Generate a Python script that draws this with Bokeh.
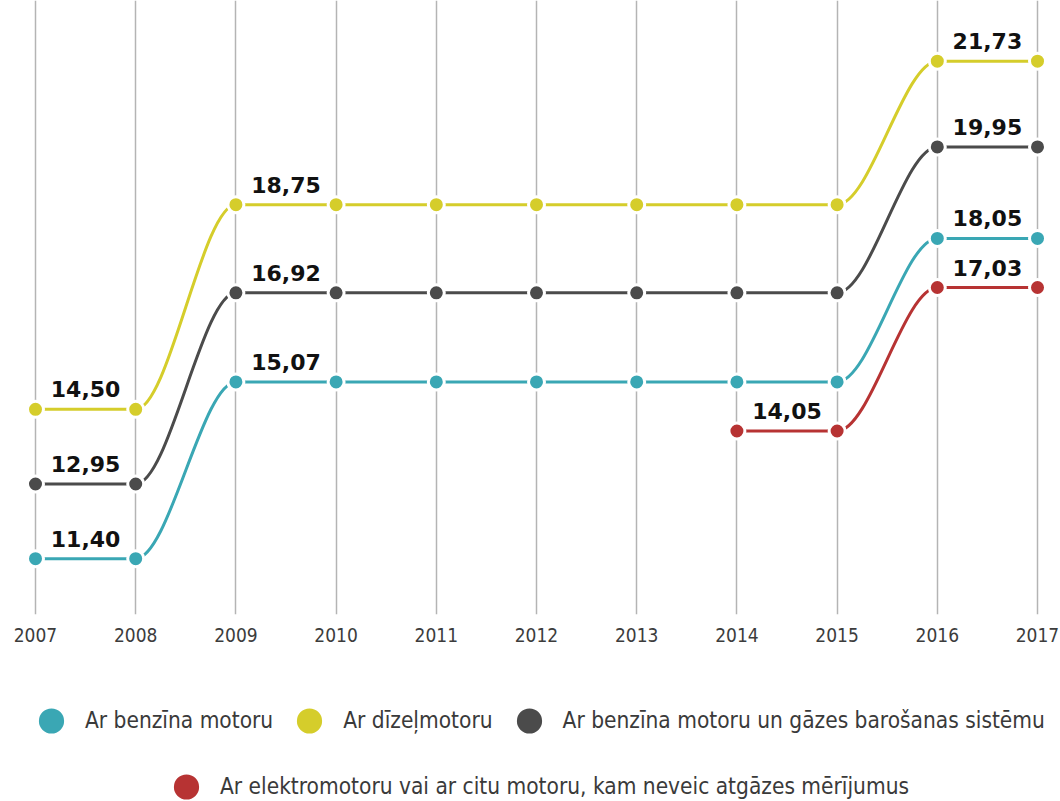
from bokeh.plotting import figure
from bokeh.layouts import column
from bokeh.core.properties import value
from bokeh.models import (ColumnDataSource, FixedTicker, Range1d, Legend,
                          LegendItem, LabelSet)
from bokeh.embed import file_html
from bokeh.resources import INLINE

# ---- data ----
years = [2007, 2008, 2009, 2010, 2011, 2012, 2013, 2014, 2015, 2016, 2017]
benzina = [11.40, 11.40, 15.07, 15.07, 15.07, 15.07, 15.07, 15.07, 15.07, 18.05, 18.05]
dizel = [14.50, 14.50, 18.75, 18.75, 18.75, 18.75, 18.75, 18.75, 18.75, 21.73, 21.73]
gaze = [12.95, 12.95, 16.92, 16.92, 16.92, 16.92, 16.92, 16.92, 16.92, 19.95, 19.95]
elektro_years = [2014, 2015, 2016, 2017]
elektro = [14.05, 14.05, 17.03, 17.03]

names = ["Ar benzīna motoru", "Ar dīzeļmotoru",
         "Ar benzīna motoru un gāzes barošanas sistēmu",
         "Ar elektromotoru vai ar citu motoru, kam neveic atgāzes mērījumus"]
colors = ["#3aa7b4", "#d5cd2b", "#4b4b4b", "#b73333"]
series = [(years, benzina), (years, dizel), (years, gaze), (elektro_years, elektro)]

NARROW = "'DejaVu Sans Condensed'"

p = figure(width=1060, height=660,
           x_range=Range1d(2006.6507, 2017.2295), y_range=Range1d(10.24, 22.99),
           output_backend="svg", toolbar_location=None,
           min_border_left=0, min_border_right=0, min_border_top=0,
           min_border_bottom=46, y_axis_location=None)
p.outline_line_color = None
p.ygrid.grid_line_color = None
p.xgrid.ticker = FixedTicker(ticks=years)
p.xgrid.grid_line_color = "#b4b4b4"
p.xgrid.grid_line_width = 1.5
p.xaxis.ticker = FixedTicker(ticks=years)
p.xaxis.axis_line_color = None
p.xaxis.major_tick_line_color = None
p.xaxis.minor_tick_line_color = None
p.xaxis.major_tick_out = 0
p.xaxis.major_label_standoff = 13
p.xaxis.major_label_text_font = NARROW
p.xaxis.major_label_text_font_size = "19px"
p.xaxis.major_label_text_color = "#3c3c3c"

label_x, label_y, label_t = [], [], []
for (xs, ys), c in zip(series, colors):
    x0, x1, y0, y1 = xs[:-1], xs[1:], ys[:-1], ys[1:]
    src = ColumnDataSource(dict(
        x0=x0, y0=y0, x1=x1, y1=y1,
        cx0=[a + (b - a) / 3 for a, b in zip(x0, x1)], cy0=y0,
        cx1=[b - (b - a) / 3 for a, b in zip(x0, x1)], cy1=y1))
    p.bezier(x0="x0", y0="y0", x1="x1", y1="y1", cx0="cx0", cy0="cy0",
             cx1="cx1", cy1="cy1", source=src, line_color=c, line_width=3)
    for i in range(len(xs) - 1):
        if i == 0 or ys[i] != ys[i - 1]:
            label_x.append((xs[i] + xs[i + 1]) / 2)
            label_y.append(ys[i])
            label_t.append(f"{ys[i]:.2f}".replace(".", ","))

for (xs, ys), c in zip(series, colors):
    p.scatter(xs, ys, size=16, fill_color=c, line_color="white", line_width=3)

lsrc = ColumnDataSource(dict(x=label_x, y=label_y, t=label_t))
p.add_layout(LabelSet(x="x", y="y", text="t", source=lsrc, y_offset=12,
                      text_align="center", text_baseline="alphabetic",
                      text_font=value("DejaVu Sans"), text_font_style="bold",
                      text_font_size="22px", text_color="#111111"))

# ---- legend panel (its series markers lie outside its visible range) ----
lg = figure(width=1060, height=141, x_range=Range1d(0, 1), y_range=Range1d(0, 1),
            output_backend="svg", toolbar_location=None,
            x_axis_location=None, y_axis_location=None, min_border=0)
lg.outline_line_color = None
lg.grid.visible = False
keys = [lg.scatter(xs, ys, size=16, fill_color=c, line_color="white", line_width=2)
        for (xs, ys), c in zip(series, colors)]

def make_legend(idx, loc):
    return Legend(items=[LegendItem(label=names[i], renderers=[keys[i]]) for i in idx],
                  location=loc, orientation="horizontal", glyph_width=68, glyph_height=75,
                  label_standoff=0, spacing=2, padding=0, margin=0,
                  border_line_color=None, background_fill_alpha=0,
                  label_text_font=NARROW, label_text_font_size="22.5px",
                  label_text_color="#3a3a3a")

lg.add_layout(make_legend([0, 1, 2], (17, 43.5)))
lg.add_layout(make_legend([3], (152, -22.5)))

layout = column(p, lg, spacing=0)
open("out.html", "w").write(file_html(layout, INLINE))
